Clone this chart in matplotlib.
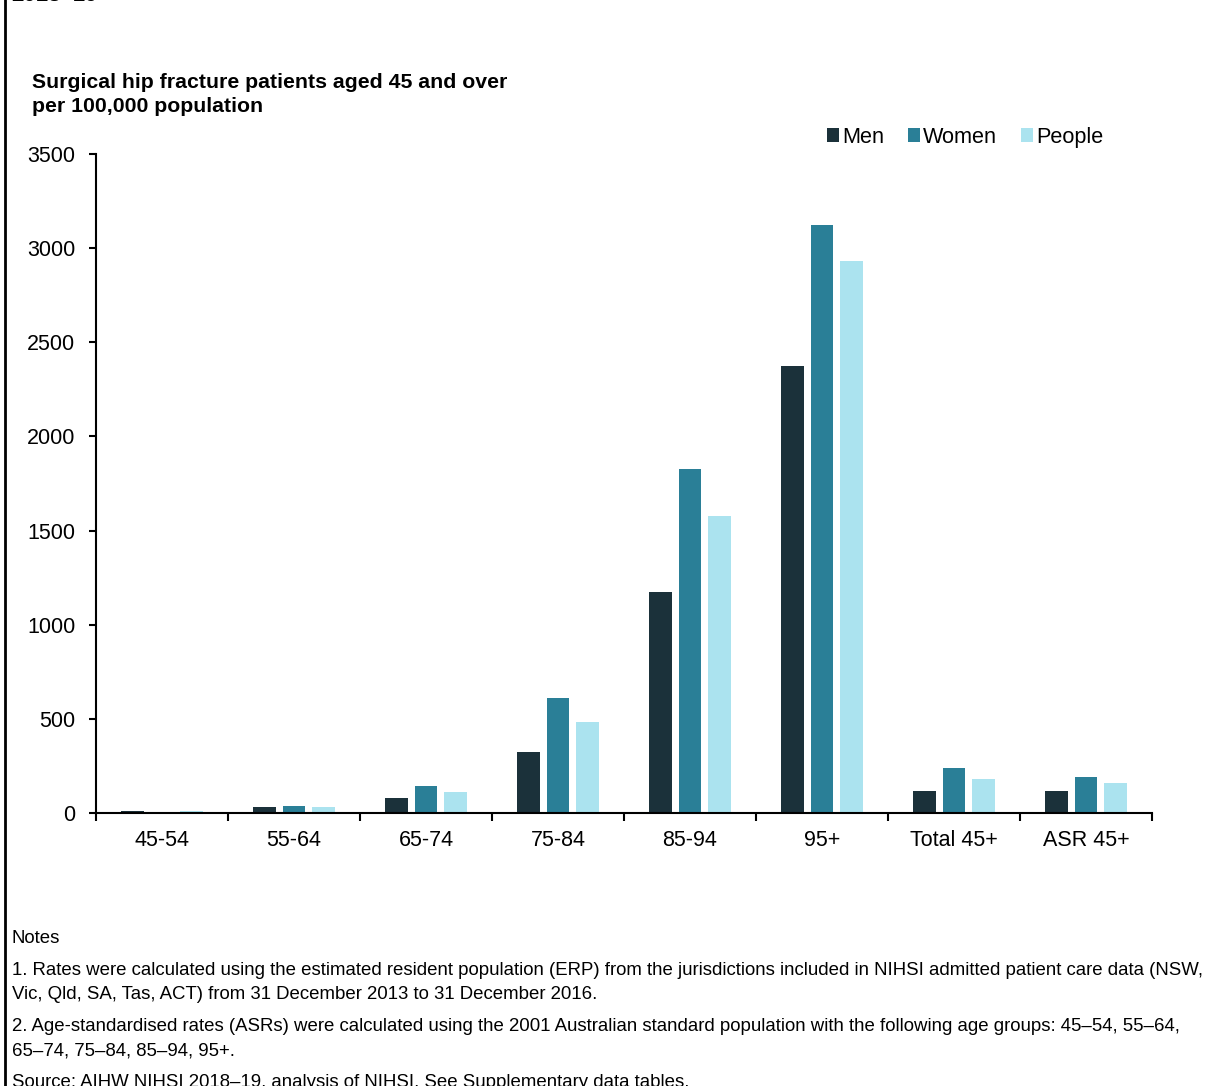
import numpy as np
import matplotlib.pyplot as plt
from matplotlib.lines import Line2D

plt.rcParams['font.family'] = ['Liberation Sans', 'DejaVu Sans']

# data
groups = ['45-54', '55-64', '65-74', '75-84', '85-94', '95+', 'Total 45+', 'ASR 45+']
men = [10, 30, 80, 322, 1172, 2372, 115, 118]
women = [5, 38, 143, 611, 1825, 3122, 240, 190]
people = [8, 33, 113, 481, 1580, 2930, 180, 157]
series = ['Men', 'Women', 'People']
colours = ['#1b313a', '#2a7f97', '#abe3ef']

fig = plt.figure(figsize=[12.14, 10.86], dpi=100)
W, H = 1214., 1086.
# axes box in pixel terms: x 96..1152, y 154..813
ax = fig.add_axes([96/W, 1-813/H, (1152-96)/W, (813-154)/H])

x = np.arange(len(groups))
bw = 0.174
step = 0.22
for i, (vals, c, lab) in enumerate(zip([men, women, people], colours, series)):
    ax.bar(x + (i-1)*step, vals, bw, color=c, label=lab)

ax.set_xlim(-0.5, len(groups)-0.5)
ax.set_ylim(0, 3500)
ax.set_yticks(np.arange(0, 3501, 500))
ax.set_xticks(x)
ax.set_xticklabels(groups)
ax.set_xticks(np.arange(-0.5, len(groups)), minor=True)
ax.tick_params(axis='x', which='major', length=0, labelsize=15.5, pad=12)
ax.tick_params(axis='x', which='minor', length=6, width=1.5, direction='out')
ax.tick_params(axis='y', length=5, width=1.5, direction='out', labelsize=15.5, pad=10)
for s in ['top', 'right']:
    ax.spines[s].set_visible(False)
for s in ['left', 'bottom']:
    ax.spines[s].set_linewidth(1.5)

ax.legend(loc='upper right', bbox_to_anchor=(1112/W, 1-118/H), bbox_transform=fig.transFigure,
          ncol=3, frameon=False, fontsize=15.6, handlelength=0.55, handleheight=0.55,
          handletextpad=0.15, columnspacing=1.1, borderaxespad=0)

fig.text(32/W, 1-88/H, 'Surgical hip fracture patients aged 45 and over',
         fontsize=15.3, fontweight='bold', ha='left', va='baseline')
fig.text(32/W, 1-112/H, 'per 100,000 population',
         fontsize=15.3, fontweight='bold', ha='left', va='baseline')

# clipped heading at the very top
fig.text(11/W, 1-1/H, '2018–19', fontsize=16, fontweight='bold', ha='left', va='baseline')

# left border
fig.add_artist(Line2D([5/W, 5/W], [0, 1], transform=fig.transFigure, color='black', lw=2))

notes = [
    (943, 'Notes'),
    (975, '1. Rates were calculated using the estimated resident population (ERP) from the jurisdictions included in NIHSI admitted patient care data (NSW,'),
    (999, 'Vic, Qld, SA, Tas, ACT) from 31 December 2013 to 31 December 2016.'),
    (1031, '2. Age-standardised rates (ASRs) were calculated using the 2001 Australian standard population with the following age groups: 45–54, 55–64,'),
    (1055, '65–74, 75–84, 85–94, 95+.'),
    (1087, 'Source: AIHW NIHSI 2018–19, analysis of NIHSI. See Supplementary data tables.'),
]
for yy, t in notes:
    fig.text(12/W, 1-yy/H, t, fontsize=13.4, ha='left', va='baseline')

fig.savefig('out.png', dpi=100)
